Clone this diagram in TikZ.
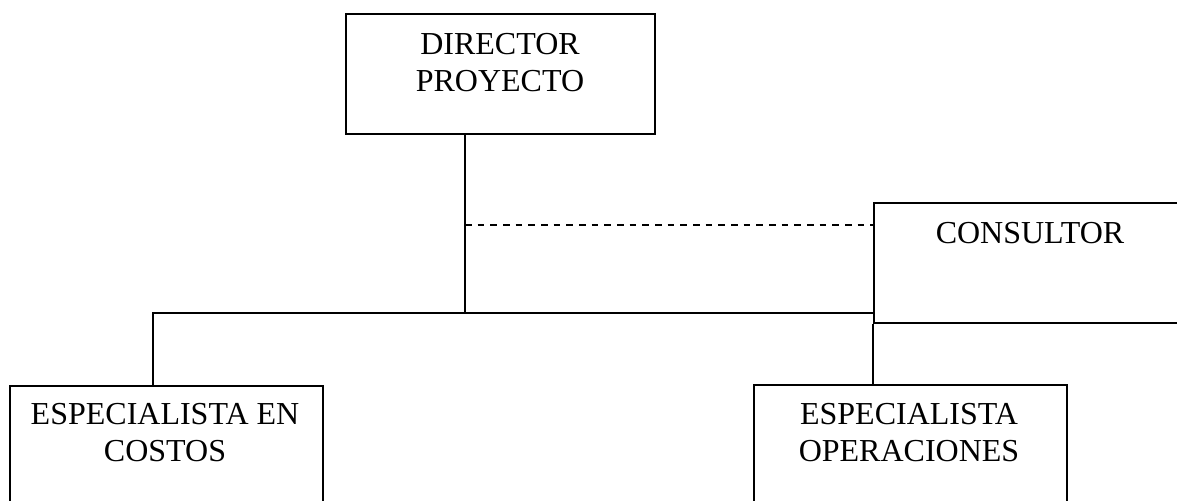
\documentclass[tikz,border=0pt]{standalone}
\usepackage{fontspec}
\setmainfont{Liberation Serif}
\begin{document}
\begin{tikzpicture}[x=0.75pt,y=-0.75pt,
  box/.style={draw=black,line width=1.4pt,rectangle,inner sep=0pt,anchor=north west},
  lbl/.style={inner sep=0pt,anchor=north,align=center,font=\fontsize{24}{27.5}\selectfont},
  link/.style={draw=black,line width=1.4pt},
  dotlink/.style={link,dash pattern=on 5pt off 4.5pt}]
\useasboundingbox (0,0) rectangle (1177,500);
\clip (0,0) rectangle (1177,500);
% boxes
\node[box,minimum width=231.75pt,minimum height=90pt] (dir) at (345,13) {};
\node[box,minimum width=235.5pt,minimum height=90pt] (con) at (873,202) {};
\node[box,minimum width=234.75pt,minimum height=90pt] (cos) at (9,385) {};
\node[box,minimum width=234.75pt,minimum height=90pt] (ope) at (753,384) {};
% texts
\node[lbl] (tdir) at (500,33) {DIRECTOR\\PROYECTO};
\node[lbl] (tcon) at (1030,222) {CONSULTOR};
\node[lbl] (tcos) at (165,403) {ESPECIALISTA EN\\COSTOS};
\node[lbl] (tope) at (909,403) {ESPECIALISTA\\OPERACIONES};
% connector points
\coordinate (dtop) at (465,133);
\coordinate (junc) at (465,313);
\coordinate (dash) at (465,225);
\coordinate (left) at (153,313);
\coordinate (right) at (873,313);
% connectors
\draw[link] (dtop) -- (junc);
\draw[dotlink] (dash) -- (dash -| con.west);
\draw[link] (cos.north -| left) -- (left) -- (right);
\draw[link] (con.south west) -- (ope.north -| con.west);
\end{tikzpicture}
\end{document}
